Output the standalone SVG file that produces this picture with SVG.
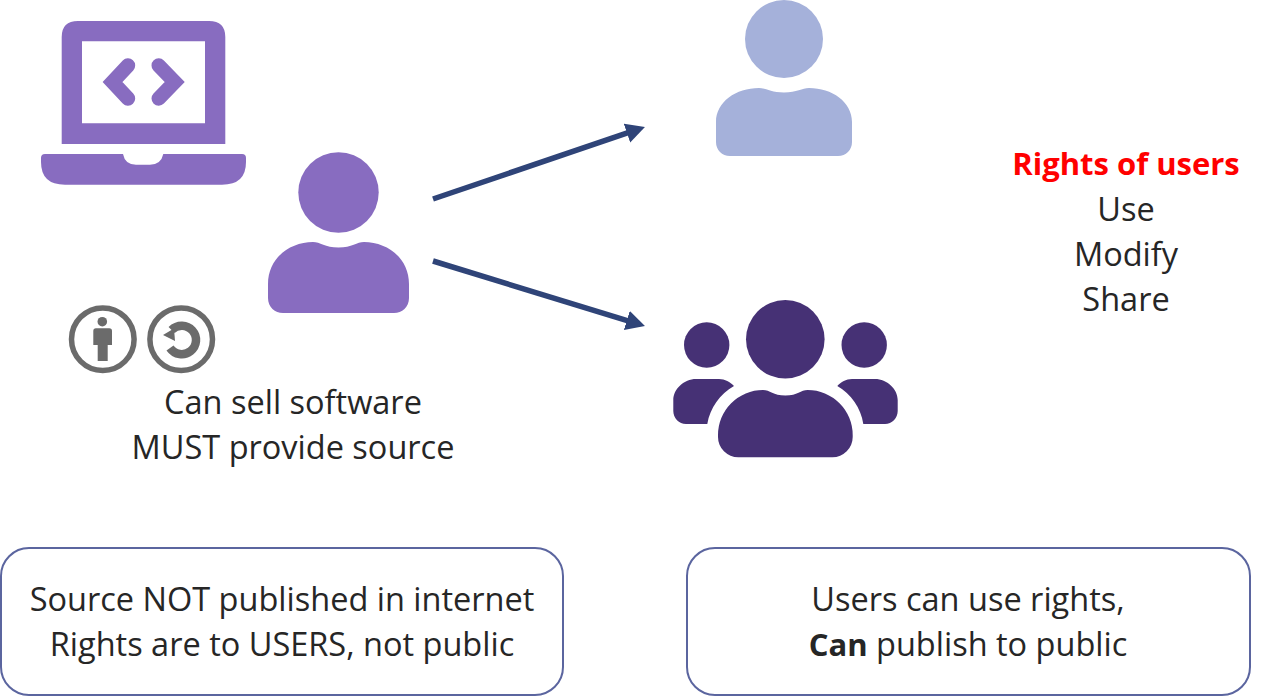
<svg xmlns="http://www.w3.org/2000/svg" width="1283" height="696" viewBox="0 0 1283 696">
<style>
text{font-family:"Open Sans","Noto Sans","Liberation Sans",sans-serif;font-size:32.5px;fill:#262626;text-anchor:middle}
.b{font-weight:700;font-size:31px}
.red{fill:#f00}
.box{fill:#fff;stroke:#5B659F;stroke-width:2}
.p{fill:#886CC0}
.l{fill:#A5B1DA}
.g{fill:#463175}
.cc{fill:none;stroke:#6B6B6B;stroke-width:5.5}
.conn{stroke:#2F4478;stroke-width:5.500;fill:none}
</style>
<defs>
<marker id="ah" markerUnits="userSpaceOnUse" markerWidth="24" markerHeight="22" refX="9" refY="10" orient="auto"><path d="M0 0L19 10L0 20Z" fill="#2F4478"/></marker>
</defs>
<rect width="1283" height="696" fill="#fff"/>
<g id="laptop">
<path class="p" fill-rule="evenodd" d="M61.700 144V37Q61.700 21 78 21H209Q225.300 21 225.300 37V144ZM82 41.300V123.300H205V41.300Z"/>
<path class="p" d="M41 158Q41 154 45 154H123Q125 164.700 136 164.700H150Q161 164.700 163.300 154H242Q246 154 246 158V162Q246 184.700 222 184.700H65Q41 184.700 41 162Z"/>
<path d="M128 65.500L112.500 82L128 98.500M158.700 65.500L174.700 82L158.700 98.500" fill="none" stroke="#886CC0" stroke-width="14.400" stroke-linecap="round" stroke-linejoin="miter"/>
</g>
<g id="owner">
<circle class="p" cx="338.500" cy="192.500" r="40.200"/>
<path class="p" d="M268 284C268 258 290 242 313 242C320 242 325 247.500 338.500 247.500C352 247.500 357 242 364 242C387 242 409 258 409 284V298C409 307 402 313 394 313H283C275 313 268 307 268 298Z"/>
</g>
<g id="user">
<circle class="l" cx="784" cy="39" r="39"/>
<path class="l" d="M716 122C716 102 736 88 759 88C766 88 771 92.500 784 92.500C797 92.500 802 88 809 88C832 88 852 102 852 122V142C852 150 846 156 838 156H730C722 156 716 150 716 142Z"/>
</g>
<g id="users">
<circle class="g" cx="785.300" cy="339.300" r="39.300"/>
<circle class="g" cx="706.700" cy="345" r="22.700"/>
<circle class="g" cx="864.200" cy="345" r="22.700"/>
<path class="g" d="M718 435A45 45 0 0 1 763 390C770 390 773 395.500 785.350 395.500C797.700 395.500 800.700 390 807.700 390A45 45 0 0 1 852.700 435V437A20.300 20.300 0 0 1 832.400 457.300H738.300A20.300 20.300 0 0 1 718 437Z"/>
<path class="g" d="M673.300 400C673.300 389 684 379 696 379H719C725 379 730 382 734 386C720 394 710 408 707.300 424H686C679 424 673.300 418 673.300 411Z"/>
<path class="g" d="M897.700 400C897.700 389 887 379 875 379H852C846 379 841 382 837.300 386C851 394 861 408 863.300 424H885C892 424 897.700 418 897.700 411Z"/>
</g>
<g id="cc-by">
<circle class="cc" cx="102.800" cy="339.200" r="31.300"/>
<circle cx="102.300" cy="321.700" r="4.800" fill="#6B6B6B"/>
<path d="M93.300 331Q93.300 328.300 96 328.300H109.300Q112 328.300 112 331V345H107.700V361H97.700V345H93.300Z" fill="#6B6B6B"/>
</g>
<g id="cc-sa">
<circle class="cc" cx="181.200" cy="339.200" r="31.300"/>
<path d="M171.600 330A14.250 14.250 0 1 1 170 348" fill="none" stroke="#6B6B6B" stroke-width="8.500"/>
<path d="M163 335L174 328.500L175 341Z" fill="#6B6B6B"/>
</g>
<g id="connectors">
<path class="conn" d="M433 199L635.500 130.200" marker-end="url(#ah)"/>
<path class="conn" d="M433 261L635.400 323.100" marker-end="url(#ah)"/>
</g>
<g id="rights">
<text x="1126" y="175" class="b red">Rights of users</text>
<text x="1126" y="221">Use</text>
<text x="1126" y="266">Modify</text>
<text x="1126" y="311">Share</text>
</g>
<g id="seller-text">
<text x="293" y="414">Can sell software</text>
<text x="293" y="459">MUST provide source</text>
</g>
<g id="box-left">
<rect class="box" x="1" y="548" width="562" height="147" rx="28"/>
<text x="282" y="611">Source NOT published in internet</text>
<text x="282" y="656">Rights are to USERS, not public</text>
</g>
<g id="box-right">
<rect class="box" x="687" y="548" width="563" height="147" rx="28"/>
<text x="968" y="611">Users can use rights,</text>
<text x="968" y="656"><tspan class="b">Can</tspan> publish to public</text>
</g>
</svg>
